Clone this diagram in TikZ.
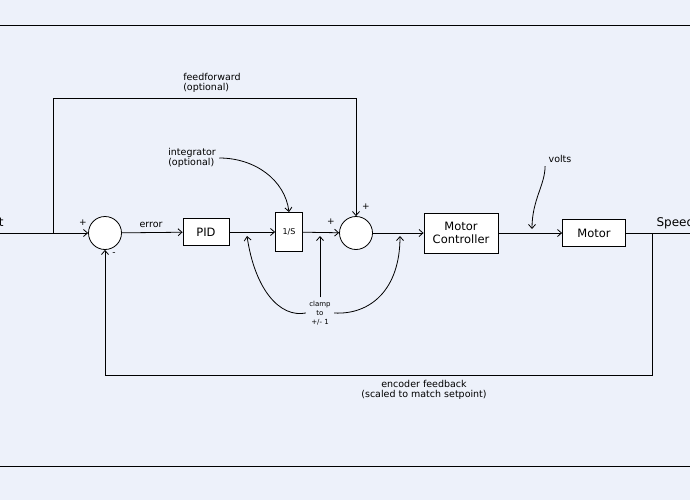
\documentclass[tikz,border=0pt]{standalone}
\usepackage{fontspec}
\setmainfont{DejaVu Sans}
\usetikzlibrary{arrows.meta,positioning}
\definecolor{bgColor}{HTML}{EDF1FA}
\tikzset{
  blockBox/.style={
    rectangle,
    draw=black,
    thick,
    fill=white,
    inner sep=0pt,
    align=center,
    font=\fontsize{11.5}{13.5}\selectfont
 },
  sumNode/.style={
    circle,
    draw=black,
    thick,
    fill=white,
    minimum size=33pt,
    inner sep=0pt
 },
  arrowLine/.style={
    -{Straight Barb[length=4pt,width=7pt]},
    thick
 },
  plainLine/.style={
    thick
 },
  noteText/.style={
    font=\fontsize{9.5}{10.5}\selectfont,
    align=left
 }
}

\begin{document}
\begin{tikzpicture}[x=1pt,y=-1pt]
  \fill[bgColor] (0,0) rectangle (690,500);
  \useasboundingbox (0,0) rectangle (690,500);
  \draw[thin] (0,25) -- (690,25);
  \draw[thin] (0,466) -- (690,466);

  % blocks
  \node[sumNode] (sumA) at (105,233) {};
  \node[sumNode] (sumB) at (356,233) {};
  \node[blockBox, minimum width=46pt, minimum height=27pt] (pid) at (206,232) {PID};
  \node[blockBox, minimum width=27pt, minimum height=39pt, font=\fontsize{8}{9}\selectfont] (integ) at (289,232) {1/S};
  \node[blockBox, minimum width=74pt, minimum height=40pt] (ctrl) at (461,233) {Motor\\Controller};
  \node[blockBox, minimum width=63pt, minimum height=27pt] (motor) at (594,233) {Motor};

  % helper points
  \coordinate (inL) at (0,233);
  \coordinate (ffSplit) at (53,233);
  \coordinate (ffTopL) at (53,98);
  \coordinate (ffTopR) at (356,98);
  \coordinate (outR) at (690,233);
  \coordinate (fbSplit) at (652,233);
  \coordinate (fbBotR) at (652,375);
  \coordinate (fbBotL) at (105,375);
  \coordinate (clampA) at (247,236);
  \coordinate (clampB) at (320,236);
  \coordinate (clampC) at (400,236);
  \coordinate (voltsTip) at (532,229);

  % labels
  \node[anchor=east, font=\fontsize{12}{14}\selectfont] (setpt) at (7,223) {Setpoint};
  \node[anchor=west, font=\fontsize{12}{14}\selectfont] (speed) at (653,223) {Speed};
  \node[font=\small] (plusA) at (83,223) {+};
  \node[font=\small] (minusA) at (114,254) {-};
  \node[font=\small] (plusB) at (331,222) {+};
  \node[font=\small] (plusC) at (366,207) {+};
  \node[noteText] (errLbl) at (151,225) {error};
  \node[noteText] (ffLbl) at (212,83) {feedforward\\(optional)};
  \node[noteText] (intLbl) at (192,158) {integrator\\(optional)};
  \node[noteText] (voltsLbl) at (560,159) {volts};
  \node[font=\fontsize{7}{9}\selectfont, align=center] (clampLbl) at (320,313) {clamp\\to\\+/- 1};
  \node[noteText, align=center] (encLbl) at (424,390) {encoder feedback\\(scaled to match setpoint)};

  % main path
  \draw[arrowLine] (inL) -- (sumA);
  \draw[arrowLine] (sumA) -- (pid);
  \draw[arrowLine] (pid) -- (integ);
  \draw[arrowLine] (integ) -- (sumB);
  \draw[arrowLine] (sumB) -- (ctrl);
  \draw[arrowLine] (ctrl) -- (motor);
  \draw[plainLine] (motor) -- (outR);

  % feedforward and feedback
  \draw[arrowLine] (ffSplit) -- (ffTopL) -- (ffTopR) -- (sumB);
  \draw[arrowLine] (fbSplit) -- (fbBotR) -- (fbBotL) -- (sumA);

  % notes
  \draw[arrowLine] (intLbl.east) .. controls (255,158) and (285,180) .. (integ.north);
  \draw[arrowLine] (voltsLbl.south west) .. controls (545,185) and (532,200) .. (voltsTip);
  \draw[arrowLine] (clampLbl.west) .. controls (280,318) and (255,290) .. (clampA);
  \draw[arrowLine] (clampLbl.north) -- (clampB);
  \draw[arrowLine] (clampLbl.east) .. controls (370,315) and (400,290) .. (clampC);
\end{tikzpicture}
\end{document}
